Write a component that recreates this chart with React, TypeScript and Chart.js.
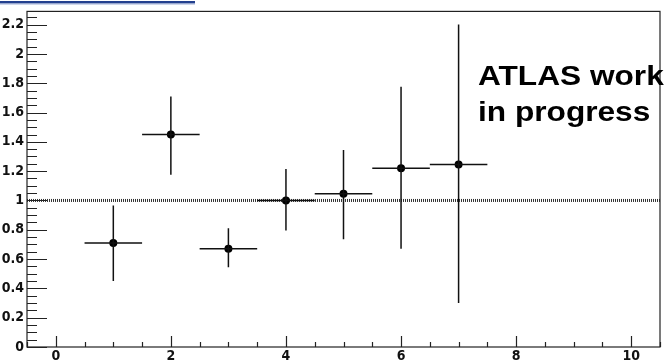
import React, { useEffect, useRef } from "react";
import { Chart, registerables } from "chart.js";

Chart.register(...registerables);

// ---- data ----
const binCenters = [1, 2, 3, 4, 5, 6, 7];
const ratioValues = [0.71, 1.45, 0.67, 1.0, 1.045, 1.22, 1.245];
const ratioLow = [0.45, 1.175, 0.545, 0.795, 0.735, 0.67, 0.3];
const ratioHigh = [0.965, 1.71, 0.81, 1.215, 1.345, 1.775, 2.2];
const binHalfWidth = [0.5, 0.5, 0.5, 0.5, 0.5, 0.5, 0.5];
const xTickLabels = [0, 2, 4, 6, 8, 10];
const yTickLabels = [0, 0.2, 0.4, 0.6, 0.8, 1, 1.2, 1.4, 1.6, 1.8, 2, 2.2];
const xRange = [-0.5, 10.5];
const yRange = [0, 2.29];
const referenceLevel = 1;
const annotationLines = ["ATLAS work", "in progress"];

const LABEL_FONT = "'Liberation Sans Narrow', 'DejaVu Sans Condensed', 'Liberation Sans', Arial, sans-serif";

const rootStylePlugin = {
  id: "rootStyle",
  beforeDraw(chart: any) {
    const ctx = chart.ctx;
    ctx.save();
    ctx.fillStyle = "#ffffff";
    ctx.fillRect(0, 0, chart.width, chart.height);
    // cropped title box edge at top-left
    ctx.fillStyle = "#23408e";
    ctx.fillRect(0, 1, 195, 2.5);
    ctx.fillStyle = "#9fb0d6";
    ctx.fillRect(0, 3.5, 195, 1);
    ctx.restore();
  },
  afterDatasetsDraw(chart: any) {
    const ctx = chart.ctx;
    const xs = chart.scales.x;
    const ys = chart.scales.y;
    const ca = chart.chartArea;
    ctx.save();
    // error bars
    ctx.strokeStyle = "#111";
    ctx.lineWidth = 1.5;
    for (let i = 0; i < binCenters.length; i++) {
      const px = xs.getPixelForValue(binCenters[i]);
      const py = ys.getPixelForValue(ratioValues[i]);
      ctx.beginPath();
      ctx.moveTo(px, ys.getPixelForValue(ratioLow[i]));
      ctx.lineTo(px, ys.getPixelForValue(ratioHigh[i]));
      ctx.moveTo(xs.getPixelForValue(binCenters[i] - binHalfWidth[i]), py);
      ctx.lineTo(xs.getPixelForValue(binCenters[i] + binHalfWidth[i]), py);
      ctx.stroke();
    }
    // frame
    ctx.strokeStyle = "#222";
    ctx.lineWidth = 1.2;
    ctx.strokeRect(ca.left, ca.top, ca.right - ca.left, ca.bottom - ca.top);
    // y ticks (major + minor), pointing inward
    ctx.lineWidth = 1.2;
    ctx.beginPath();
    for (let k = 0; k <= 45; k++) {
      const v = k * 0.05;
      if (v > yRange[1]) break;
      const py = Math.round(ys.getPixelForValue(v)) + 0.5;
      const len = k % 4 === 0 ? 20 : 10;
      ctx.moveTo(ca.left, py);
      ctx.lineTo(ca.left + len, py);
    }
    // x ticks
    for (let k = -1; k <= 21; k++) {
      const v = k * 0.5;
      const px = Math.round(xs.getPixelForValue(v)) + 0.5;
      const len = k % 4 === 0 ? 11 : 5;
      ctx.moveTo(px, ca.bottom);
      ctx.lineTo(px, ca.bottom - len);
    }
    ctx.stroke();
    // annotation text
    ctx.fillStyle = "#000";
    ctx.font = "bold 28px 'Liberation Sans', Arial, sans-serif";
    ctx.textBaseline = "alphabetic";
    ctx.textAlign = "left";
    ctx.translate(478, 0);
    ctx.scale(1.13, 1);
    ctx.fillText(annotationLines[0], 0, 85);
    ctx.fillText(annotationLines[1], 0, 121);
    ctx.restore();
  },
};

export default function App() {
  const ref = useRef<HTMLCanvasElement | null>(null);
  useEffect(() => {
    document.body.style.margin = "0";
    const canvas = ref.current;
    if (!canvas) return;
    const chart = new Chart(canvas, {
      type: "scatter",
      data: {
        datasets: [
          {
            type: "line",
            data: [
              { x: xRange[0], y: referenceLevel },
              { x: xRange[1], y: referenceLevel },
            ],
            borderColor: "#333",
            borderWidth: 3,
            borderDash: [1, 1],
            pointRadius: 0,
            order: 2,
          } as any,
          {
            data: binCenters.map((x, i) => ({ x, y: ratioValues[i] })),
            backgroundColor: "#000",
            borderColor: "#000",
            pointRadius: 4,
            pointBorderWidth: 0,
            order: 1,
          },
        ],
      },
      options: {
        animation: false,
        responsive: false,
        devicePixelRatio: 1,
        layout: { padding: { top: 10, right: 3, left: 0, bottom: 0 } },
        plugins: { legend: { display: false }, tooltip: { enabled: false } },
        scales: {
          x: {
            type: "linear",
            min: xRange[0],
            max: xRange[1],
            border: { display: false },
            grid: { display: false, drawTicks: false },
            afterBuildTicks: (s: any) => {
              s.ticks = xTickLabels.map((v) => ({ value: v }));
            },
            afterFit: (s: any) => {
              s.height = 14;
            },
            ticks: {
              padding: 1,
              autoSkip: false,
              maxRotation: 0,
              color: "#111",
              font: { family: LABEL_FONT, size: 14, weight: "bold" },
              callback: (v: any) => String(v),
            },
          },
          y: {
            type: "linear",
            min: yRange[0],
            max: yRange[1],
            border: { display: false },
            grid: { display: false, drawTicks: false },
            afterBuildTicks: (s: any) => {
              s.ticks = yTickLabels.map((v) => ({ value: v }));
            },
            afterFit: (s: any) => {
              s.width = 27;
            },
            ticks: {
              padding: 3,
              autoSkip: false,
              color: "#111",
              font: { family: LABEL_FONT, size: 14, weight: "bold" },
              callback: (v: any) => String(Math.round(Number(v) * 10) / 10),
            },
          },
        },
      },
      plugins: [rootStylePlugin],
    });
    return () => chart.destroy();
  }, []);
  return <canvas ref={ref} width={664} height={361} style={{ display: "block" }} />;
}
